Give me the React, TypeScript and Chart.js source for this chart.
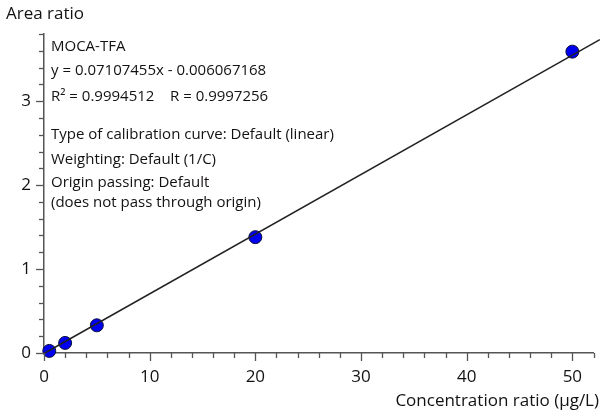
import React, { useEffect, useRef } from "react";
import { Chart, registerables } from "chart.js";

Chart.register(...registerables);

const concentrations = [0.5, 2, 5, 20, 50];
const areaRatios = [0.025, 0.12, 0.33, 1.38, 3.59];
const fitLineX = [0, 52.6];
const fitLineY = [-0.006, 3.732];
const xTickLabels = ["0", "10", "20", "30", "40", "50"];
const yTickLabels = ["0", "1", "2", "3"];
const yTitle = "Area ratio";
const xTitle = "Concentration ratio (µg/L)";
const annotationLines = [
  "MOCA-TFA",
  "y = 0.07107455x - 0.006067168",
  "R² = 0.9994512",
  "Type of calibration curve: Default (linear)",
  "Weighting: Default (1/C)",
  "Origin passing: Default",
  "(does not pass through origin)",
];
const annotationR = "R = 0.9997256";

const FONT = '"Open Sans", "Noto Sans", sans-serif';
const TEXT = "#141112";
const AXIS = "#555555";

const isLabel = (labels: string[], v: number) =>
  labels.some((l) => Math.abs(parseFloat(l) - v) < 1e-6);

const decorPlugin = {
  id: "decor",
  afterDraw(chart: any) {
    const ctx = chart.ctx as CanvasRenderingContext2D;
    const xs = chart.scales.x;
    const ys = chart.scales.y;
    ctx.save();
    ctx.strokeStyle = AXIS;
    ctx.lineWidth = 1.3;
    xs.ticks.forEach((t: any) => {
      const px = Math.round(xs.getPixelForValue(t.value)) + 0.5;
      const len = isLabel(xTickLabels, t.value) ? 8 : 5;
      ctx.beginPath();
      ctx.moveTo(px, xs.top);
      ctx.lineTo(px, xs.top + len);
      ctx.stroke();
    });
    ys.ticks.forEach((t: any) => {
      const py = Math.round(ys.getPixelForValue(t.value)) + 0.5;
      const len = isLabel(yTickLabels, t.value) ? 8 : 5;
      ctx.beginPath();
      ctx.moveTo(ys.right, py);
      ctx.lineTo(ys.right - len, py);
      ctx.stroke();
    });
    ctx.fillStyle = TEXT;
    ctx.font = `17px ${FONT}`;
    ctx.textBaseline = "middle";
    ctx.textAlign = "left";
    ctx.fillText(yTitle, 6, 14);
    ctx.textAlign = "right";
    ctx.fillText(xTitle, 599, 401);
    ctx.textAlign = "left";
    ctx.font = `15px ${FONT}`;
    const ys2 = [47, 71, 97, 135, 160, 183, 203];
    annotationLines.forEach((s, i) => ctx.fillText(s, 51, ys2[i]));
    ctx.fillText(annotationR, 170, 97);
    ctx.restore();
  },
};

export default function App() {
  const ref = useRef<HTMLCanvasElement>(null);
  useEffect(() => {
    if (!ref.current) return;
    const chart = new Chart(ref.current, {
      type: "scatter",
      data: {
        datasets: [
          {
            label: "fit",
            data: fitLineX.map((x, i) => ({ x, y: fitLineY[i] })),
            showLine: true,
            borderColor: "#222222",
            borderWidth: 1.5,
            pointRadius: 0,
            clip: false as any,
          },
          {
            label: "points",
            data: concentrations.map((x, i) => ({ x, y: areaRatios[i] })),
            backgroundColor: "#0000f0",
            borderColor: "#10103a",
            borderWidth: 1,
            pointRadius: 6.5,
            clip: false as any,
          },
        ],
      },
      options: {
        animation: false,
        responsive: false,
        maintainAspectRatio: false,
        layout: { padding: { top: 34, left: 0, right: 0, bottom: 0 } },
        plugins: { legend: { display: false }, tooltip: { enabled: false }, title: { display: false } },
        scales: {
          x: {
            type: "linear",
            min: 0,
            max: 52,
            grid: { display: false },
            border: { display: true, color: AXIS, width: 1.5 },
            afterFit: (s: any) => {
              s.height = 61;
            },
            ticks: {
              stepSize: 2,
              autoSkip: false,
              maxRotation: 0,
              padding: 6,
              color: TEXT,
              font: { family: FONT, size: 17 },
              callback: (v: any) => (isLabel(xTickLabels, Number(v)) ? String(Math.round(Number(v))) : ""),
            },
          },
          y: {
            type: "linear",
            min: 0,
            max: 3.8,
            grid: { display: false },
            border: { display: true, color: AXIS, width: 1.5 },
            afterFit: (s: any) => {
              s.width = 44;
            },
            ticks: {
              stepSize: 0.2,
              autoSkip: false,
              padding: 5,
              color: TEXT,
              font: { family: FONT, size: 17 },
              callback: (v: any) => (isLabel(yTickLabels, Number(v)) ? String(Math.round(Number(v))) : ""),
            },
          },
        },
      },
      plugins: [decorPlugin],
    });
    return () => chart.destroy();
  }, []);
  return (
    <div style={{ position: "fixed", left: 0, top: 0, width: 601, height: 414, background: "#fff" }}>
      <canvas ref={ref} width={601} height={414} style={{ width: 601, height: 414 }} />
    </div>
  );
}
